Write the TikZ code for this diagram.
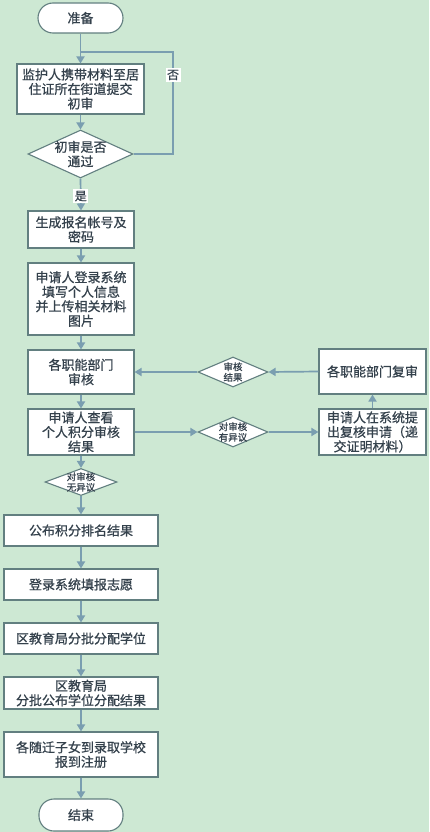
\documentclass[tikz,border=0pt]{standalone}
\usepackage{fontspec}
\setmainfont{Noto Sans CJK SC}[FakeBold=0.8]
\usetikzlibrary{shapes.geometric,arrows.meta}
\definecolor{bg}{HTML}{CDE8D3}
\definecolor{ln}{HTML}{7A9EB0}
\definecolor{bd}{HTML}{627F80}
\definecolor{tx}{HTML}{34414C}
\tikzset{
  box/.style={draw=bd, line width=1.1pt, fill=white, rectangle, inner sep=0pt, align=center, text=tx, font=\fontsize{13}{14.5}\selectfont},
  term/.style={box, rounded corners=15pt},
  dia/.style={draw=bd, line width=1.1pt, fill=white, diamond, inner sep=0pt},
  dtxt/.style={inner sep=0pt, align=center, text=tx, font=\fontsize{13}{14.5}\selectfont},
  stxt/.style={inner sep=0pt, align=center, text=tx, font=\fontsize{9.5}{10.5}\selectfont},
  conn/.style={draw=ln, line width=1.7pt},
  arr/.style={conn, -{Triangle[length=7pt,width=8pt]}},
  lab/.style={fill=white, inner sep=1.5pt, text=tx, font=\fontsize{12}{12}\selectfont}
}
\begin{document}
\begin{tikzpicture}[x=1pt,y=-1pt]
\useasboundingbox[fill=bg] (0,0) rectangle (429,832);
% nodes
\node[term, minimum width=85pt, minimum height=30pt] (start) at (80.5,18) {准备};
\node[box, minimum width=127pt, minimum height=50pt] (b1) at (80.5,89) {监护人携带材料至居\\住证所在街道提交\\初审};
\node[dia, minimum width=105pt, minimum height=48pt] (d1) at (80.5,154) {};
\node[dtxt] (d1t) at (d1) {初审是否\\通过};
\node[box, minimum width=106pt, minimum height=37pt] (b2) at (81,229.5) {生成报名帐号及\\密码};
\node[box, minimum width=106pt, minimum height=72pt] (b3) at (81,299) {申请人登录系统\\填写个人信息\\并上传相关材料\\图片};
\node[box, minimum width=106pt, minimum height=44pt] (b4) at (81,372) {各职能部门\\审核};
\node[dia, minimum width=70pt, minimum height=30pt] (d2) at (233,372) {};
\node[stxt] (d2t) at (d2) {审核\\结果};
\node[box, minimum width=107pt, minimum height=45pt] (b7) at (372.5,371.5) {各职能部门复审};
\node[box, minimum width=106pt, minimum height=46pt] (b5) at (81,432) {申请人查看\\个人积分审核\\结果};
\node[dia, minimum width=70pt, minimum height=30pt] (d3) at (233,432) {};
\node[stxt] (d3t) at (d3) {对审核\\有异议};
\node[box, minimum width=107pt, minimum height=46pt] (b6) at (372.5,432) {申请人在系统提\\出复核申请（递\\交证明材料）};
\node[dia, minimum width=72pt, minimum height=27pt] (d4) at (81,482) {};
\node[stxt] (d4t) at (d4) {对审核\\无异议};
\node[box, minimum width=154pt, minimum height=31pt] (b8) at (81,530.5) {公布积分排名结果};
\node[box, minimum width=154pt, minimum height=31pt] (b9) at (81,584.5) {登录系统填报志愿};
\node[box, minimum width=154pt, minimum height=31pt] (b10) at (81,638.5) {区教育局分批分配学位};
\node[box, minimum width=154pt, minimum height=32pt] (b11) at (81,693) {区教育局\\分批公布学位分配结果};
\node[box, minimum width=154pt, minimum height=45pt] (b12) at (81,754.5) {各随迁子女到录取学校\\报到注册};
\node[term, minimum width=84pt, minimum height=32pt] (end) at (81,815) {结束};
% loop coordinates
\coordinate (lc) at (173,52);
\coordinate (lj) at (80.5,52);
% connectors
\draw[arr] (start) -- (b1);
\draw[conn] (d1.east) -| (lc) -- (lj);
\node[lab] (no) at (173,75) {否};
\draw[arr] (b1) -- (d1);
\draw[arr] (d1.south) -- (b2.north) node[lab, pos=0.55] (yes) {是};
\draw[arr] (b2) -- (b3);
\draw[arr] (b3) -- (b4);
\draw[arr] (b4) -- (b5);
\draw[arr] (b5) -- (d4);
\draw[arr] (d4) -- (b8);
\draw[arr] (b8) -- (b9);
\draw[arr] (b9) -- (b10);
\draw[arr] (b10) -- (b11);
\draw[arr] (b11) -- (b12);
\draw[arr] (b12) -- (end);
\draw[arr] (b5.east) -- (d3.west);
\draw[arr] (d3.east) -- (b6.west);
\draw[arr] (b6.north) -- (b7.south);
\draw[arr] (b7.west) -- (d2.east);
\draw[arr] (d2.west) -- (b4.east);
\end{tikzpicture}
\end{document}
